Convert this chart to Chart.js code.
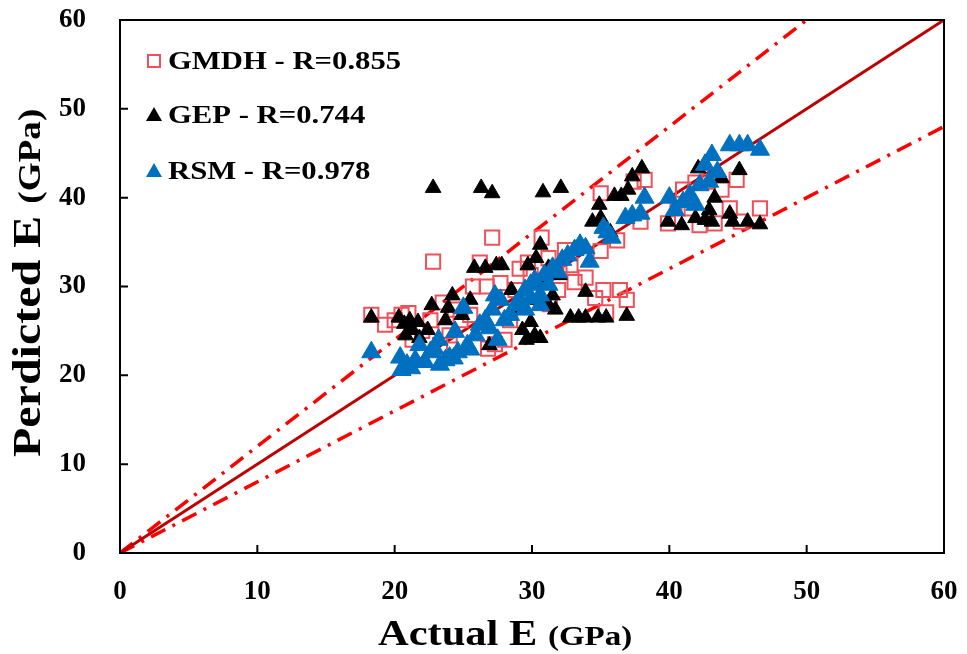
<!DOCTYPE html>
<html><head><meta charset="utf-8">
<script src="https://cdn.jsdelivr.net/npm/chart.js@4/dist/chart.umd.min.js"></script>
<style>html,body{margin:0;padding:0;background:#fff}#wrap{width:967px;height:654px}</style>
</head><body><div id="wrap"><canvas id="c" width="967" height="654"></canvas></div>
<script>
// ---- data ----
const gmdhX=[18.3,20.5,21.0,22.8,21.3,22.0,23.7,23.5,24.0,25.7,26.2,27.1,26.7,27.7,26.8,27.3,28.0,28.4,28.8,30.7,29.7,31.3,31.9,33.1,33.9,35.0,35.0,34.6,35.2,35.4,36.9,36.2,37.4,38.2,37.9,39.9,40.6,41.0,41.9,42.8,43.3,44.4,44.9,46.6,42.2,45.2,43.8,41.4,29.1,29.9,30.6,31.2,32.4,32.8,32.0,19.3,20.0,22.6,24.4,24.8,25.5,23.3,36.4];
const gmdhY=[26.8,26.8,27.0,32.8,24.0,25.0,25.0,28.2,24.5,30.0,32.7,35.5,30.0,30.4,23.0,23.5,24.0,26.2,29.6,35.5,32.7,28.0,29.6,30.5,31.0,34.0,40.5,28.7,29.6,27.1,28.5,35.2,41.8,42.0,37.3,37.1,38.8,40.9,41.7,41.8,37.1,38.8,42.0,38.8,36.9,37.3,40.9,38.8,32.0,31.3,30.7,33.2,34.1,32.4,31.6,25.7,26.2,26.2,27.4,26.2,26.8,23.4,29.6];
const gepX=[18.3,20.3,20.7,21.1,21.3,20.8,21.7,21.8,22.4,22.7,22.8,23.7,23.9,24.2,24.9,25.5,25.8,26.3,26.6,27.1,27.4,27.8,26.9,27.5,28.5,29.0,29.3,29.9,29.6,30.2,30.6,29.7,30.3,30.6,30.8,32.1,31.2,31.7,32.8,33.4,33.9,34.8,35.4,36.9,34.4,34.9,35.0,36.0,36.5,37.0,38.0,37.3,35.7,39.9,40.9,41.9,42.1,42.6,43.1,43.3,43.8,44.4,44.6,45.1,45.7,46.6,42.9,30.9,31.5,31.2,30.4,33.9,32.0];
const gepY=[26.5,26.5,25.8,26.2,25.1,24.5,26.0,24.2,25.1,27.9,41.1,26.2,27.6,29.0,26.8,28.5,32.1,41.1,32.1,40.5,32.4,32.4,23.4,24.0,29.6,27.6,25.1,26.0,24.0,24.5,24.2,32.4,33.2,34.7,40.6,41.1,32.1,27.4,26.5,26.5,26.5,26.5,26.5,26.7,37.3,39.2,37.7,40.2,40.2,40.9,43.3,42.4,36.1,37.3,36.9,37.7,43.3,37.5,37.3,40.0,42.2,38.2,37.3,43.1,37.3,37.0,38.6,30.2,29.0,27.9,28.5,29.4,31.3];
const rsmX=[18.3,20.4,20.5,20.9,21.5,21.8,22.2,22.6,23.2,23.7,24.0,24.4,24.6,25.0,25.3,25.9,26.2,26.6,27.1,27.3,27.7,27.5,28.0,28.4,28.8,29.1,29.5,29.9,30.2,30.6,30.9,31.2,31.5,31.9,32.2,32.6,33.1,33.5,33.9,34.2,35.2,35.5,35.8,36.8,37.3,37.9,40.0,40.4,41.0,41.5,41.9,42.2,42.9,43.1,43.5,44.4,45.1,45.7,46.6,42.6,38.2,26.9,25.5,23.3,29.5,29.9,30.6,21.2,22.9,24.3];
const rsmY=[22.6,22.0,20.6,21.2,21.7,23.4,21.5,22.6,24.0,21.7,22.0,24.9,22.6,27.6,23.4,24.5,25.7,26.2,27.4,29.0,28.5,24.0,26.2,26.8,27.9,28.5,29.6,30.2,30.7,29.0,31.3,30.2,32.1,31.6,33.0,33.5,34.1,34.7,34.3,32.8,36.6,36.1,35.5,37.7,38.0,38.2,40.0,38.6,39.5,40.3,39.2,41.4,41.8,44.8,42.9,45.9,45.9,45.9,45.4,43.7,40.0,25.3,22.9,21.2,27.4,28.7,27.9,20.8,23.0,21.9];
const refX=[0,60], refY=[0,60];
const upX=[0,50], upY=[0,60];
const lowX=[0,60], lowY=[0,48];
const axisTicks=[0,10,20,30,40,50,60];
const seriesNames=['GMDH - R=0.855','GEP - R=0.744','RSM - R=0.978'];
const xTitle=['Actual E','(GPa)'];
const yTitle=['Perdicted E','(GPa)'];

const pts=(xs,ys)=>xs.map((x,i)=>({x,y:ys[i]}));
const SERIF='"Liberation Serif","Times New Roman",serif';
const RED_SQ='#F0505A', BLUE='#0070C0';

const frame={id:'frame',afterDatasetsDraw(ch){
  const {ctx,chartArea:a,scales:{x,y}}=ch;
  ctx.save();
  ctx.strokeStyle='#000';ctx.lineWidth=2;
  ctx.strokeRect(a.left,a.top,a.right-a.left,a.bottom-a.top);
  ctx.beginPath();
  axisTicks.slice(1,-1).forEach(v=>{
    const px=x.getPixelForValue(v);ctx.moveTo(px,a.bottom);ctx.lineTo(px,a.bottom-8);
    const py=y.getPixelForValue(v);ctx.moveTo(a.left,py);ctx.lineTo(a.left+8,py);
  });
  ctx.stroke();
  // legend
  const ds=ch.data.datasets;
  const rows=[61,115,171];
  ctx.textBaseline='middle';ctx.textAlign='left';ctx.fillStyle='#000';
  rows.forEach((ry,i)=>{
    const d=ds[i];const mx=154;
    if(i===0){ctx.strokeStyle=d.borderColor;ctx.lineWidth=2;ctx.strokeRect(mx-6,ry-6,12,12);}
    else{ctx.fillStyle=d.backgroundColor;ctx.beginPath();ctx.moveTo(mx,ry-8);ctx.lineTo(mx+8,ry+6);ctx.lineTo(mx-8,ry+6);ctx.closePath();ctx.fill();}
    ctx.fillStyle='#000';
    ctx.save();ctx.translate(168,ry+1);ctx.scale(1.18,1);
    ctx.font='bold 26px '+SERIF;ctx.fillText(seriesNames[i],0,0);ctx.restore();
  });
  // x title
  ctx.save();ctx.translate(378,636);ctx.scale(1.18,1);
  ctx.font='bold 36px '+SERIF;ctx.fillText(xTitle[0],0,0);
  let w=ctx.measureText(xTitle[0]+' ').width;
  ctx.font='bold 28px '+SERIF;ctx.fillText(xTitle[1],w,2);
  ctx.restore();
  // y title
  ctx.save();ctx.translate(30,457);ctx.rotate(-Math.PI/2);ctx.scale(1.2,1);
  ctx.font='bold 40px '+SERIF;ctx.fillText(yTitle[0],0,0);
  w=ctx.measureText(yTitle[0]+' ').width;
  ctx.font='bold 31px '+SERIF;ctx.fillText(yTitle[1],w,2);
  ctx.restore();
  ctx.restore();
}};

new Chart(document.getElementById('c'),{
  type:'scatter',
  data:{datasets:[
    {label:seriesNames[0],data:pts(gmdhX,gmdhY),pointStyle:'rect',pointRadius:10,borderColor:RED_SQ,backgroundColor:'rgba(0,0,0,0)',borderWidth:2,order:3},
    {label:seriesNames[1],data:pts(gepX,gepY),pointStyle:'triangle',pointRadius:9,borderColor:'#000',backgroundColor:'#000',borderWidth:1,order:2},
    {label:seriesNames[2],data:pts(rsmX,rsmY),pointStyle:'triangle',pointRadius:11,borderColor:BLUE,backgroundColor:BLUE,borderWidth:1,order:1},
    {label:'ref',data:pts(refX,refY),showLine:true,pointRadius:0,borderColor:'#C00000',borderWidth:3,order:10},
    {label:'up',data:pts(upX,upY),showLine:true,pointRadius:0,borderColor:'#FF0000',borderWidth:3.5,borderDash:[16,8,3,8],order:10},
    {label:'low',data:pts(lowX,lowY),showLine:true,pointRadius:0,borderColor:'#FF0000',borderWidth:3.5,borderDash:[16,8,3,8],order:10}
  ]},
  options:{
    responsive:false,animation:false,devicePixelRatio:1,
    layout:{padding:{top:20,right:23,left:0,bottom:0}},
    plugins:{legend:{display:false},tooltip:{enabled:false}},
    scales:{
      x:{type:'linear',min:0,max:60,afterFit:s=>{s.height=101;s.paddingLeft=0;s.paddingRight=0;},
        grid:{display:false},border:{display:false},
        ticks:{stepSize:10,padding:15,color:'#000',font:{family:SERIF,size:27,weight:'bold'}}},
      y:{type:'linear',min:0,max:60,afterFit:s=>{s.width=120;s.paddingTop=0;s.paddingBottom=0;},
        grid:{display:false},border:{display:false},
        ticks:{stepSize:10,padding:26,color:'#000',font:{family:SERIF,size:27,weight:'bold'}}}
    }
  },
  plugins:[frame]
});
</script></body></html>
